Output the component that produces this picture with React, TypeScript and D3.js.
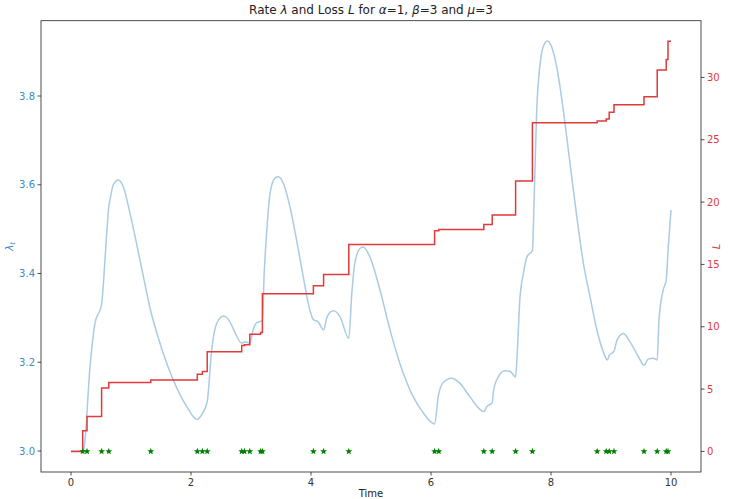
import React from "react";
import * as d3 from "d3";

// Event (arrival) times of the losses
const eventTimes = [
  0.195, 0.267, 0.51, 0.63, 1.33, 2.105, 2.19, 2.27, 2.845, 2.89, 2.98, 3.16, 3.19,
  4.04, 4.21, 4.63, 6.06, 6.13, 6.88, 7.02, 7.41, 7.69, 8.77, 8.92, 8.97, 9.05,
  9.55, 9.77, 9.92, 9.95,
];

// Cumulative loss L right after each event
const lossAfter = [
  1.66, 2.8, 5.08, 5.53, 5.72, 6.2, 6.41, 8.0, 8.5, 8.55, 9.4, 9.54, 12.64,
  13.28, 14.2, 16.6, 17.7, 17.8, 18.2, 18.97, 21.7, 26.36, 26.5, 26.66, 27.2, 27.8,
  28.45, 30.6, 31.44, 32.9,
];

// Intensity path lambda_t sampled over time
const rateTimes = [
  0, 0.195, 0.22, 0.317, 0.4, 0.51, 0.54, 0.595, 0.63, 0.65, 0.705, 0.79, 0.87, 0.983,
  1.15, 1.33, 1.483, 1.705, 1.93, 2.1, 2.19, 2.27, 2.345, 2.43, 2.54, 2.65, 2.73,
  2.845, 2.9, 2.98, 3.04, 3.094, 3.19, 3.22, 3.26, 3.317, 3.4, 3.456, 3.54, 3.65,
  3.76, 3.87, 3.98, 4.04, 4.12, 4.21, 4.27, 4.37, 4.483, 4.63, 4.68, 4.73, 4.82,
  4.87, 4.98, 5.15, 5.317, 5.48, 5.705, 5.85, 6.06, 6.12, 6.2, 6.345, 6.48, 6.65,
  6.88, 6.93, 7.02, 7.04, 7.12, 7.23, 7.32, 7.41, 7.44, 7.48, 7.54, 7.6, 7.69,
  7.72, 7.76, 7.82, 7.87, 7.94, 8.01, 8.095, 8.205, 8.317, 8.43, 8.54, 8.65, 8.77,
  8.87, 8.92, 8.94, 8.97, 9.05, 9.1, 9.205, 9.317, 9.455, 9.55, 9.62, 9.705, 9.77,
  9.8, 9.87, 9.92, 9.955, 10.0,
];
const rateValues = [
  3.0, 3.0, 3.01, 3.19, 3.288, 3.33, 3.378, 3.49, 3.55, 3.566, 3.6, 3.611, 3.596, 3.536,
  3.43, 3.315, 3.243, 3.16, 3.1, 3.071, 3.085, 3.111, 3.228, 3.288, 3.304, 3.291, 3.268,
  3.243, 3.246, 3.243, 3.275, 3.289, 3.294, 3.4, 3.49, 3.58, 3.615, 3.618, 3.603, 3.55,
  3.475, 3.393, 3.318, 3.296, 3.291, 3.273, 3.303, 3.316, 3.303, 3.254, 3.355, 3.423, 3.457,
  3.46, 3.438, 3.363, 3.273, 3.198, 3.122, 3.09, 3.061, 3.122, 3.154, 3.164, 3.153, 3.122,
  3.089, 3.1, 3.109, 3.134, 3.167, 3.181, 3.179, 3.167, 3.228, 3.34, 3.4, 3.438, 3.452,
  3.573, 3.761, 3.874, 3.911, 3.924, 3.911, 3.866, 3.768, 3.648, 3.528, 3.423, 3.348, 3.27,
  3.224, 3.208, 3.205, 3.215, 3.225, 3.25, 3.265, 3.246, 3.213, 3.193, 3.207, 3.209, 3.205,
  3.295, 3.363, 3.385, 3.46, 3.543,
];

const xTicks = [0, 2, 4, 6, 8, 10];
const rateTicks = [3.0, 3.2, 3.4, 3.6, 3.8];
const lossTicks = [0, 5, 10, 15, 20, 25, 30];

const W = 729;
const H = 499;
const PLOT = { left: 41, right: 701, top: 20.7, bottom: 472 };
const FONT = "DejaVu Sans, sans-serif";
const BLUE_TEXT = "#3d8bc4";
const RED_TEXT = "#de3a3a";

function star(cx: number, cy: number, r: number) {
  const pts: string[] = [];
  for (let i = 0; i < 10; i++) {
    const a = -Math.PI / 2 + (i * Math.PI) / 5;
    const rr = i % 2 === 0 ? r : r * 0.42;
    pts.push(`${(cx + rr * Math.cos(a)).toFixed(2)},${(cy + rr * Math.sin(a)).toFixed(2)}`);
  }
  return pts.join(" ");
}

export default function App() {
  const x = d3.scaleLinear().domain([-0.5, 10.5]).range([PLOT.left, PLOT.right]);
  const yRate = d3
    .scaleLinear()
    .domain([2.9527, 3.9697])
    .range([PLOT.bottom, PLOT.top]);
  const yLoss = d3.scaleLinear().domain([-1.65, 34.55]).range([PLOT.bottom, PLOT.top]);

  const ratePts: [number, number][] = rateTimes.map((t, i) => [t, rateValues[i]]);
  const rateLine = d3
    .line<[number, number]>()
    .x((d) => x(d[0]))
    .y((d) => yRate(d[1]))
    .curve(d3.curveMonotoneX)(ratePts);

  const lossPts: [number, number][] = [[0, 0]];
  eventTimes.forEach((t, i) => lossPts.push([t, lossAfter[i]]));
  lossPts.push([10, lossAfter[lossAfter.length - 1]]);
  const lossLine = d3
    .line<[number, number]>()
    .x((d) => x(d[0]))
    .y((d) => yLoss(d[1]))
    .curve(d3.curveStepAfter)(lossPts);

  const midX = (PLOT.left + PLOT.right) / 2;
  const midY = (PLOT.top + PLOT.bottom) / 2;

  return (
    <svg
      width={W}
      height={H}
      style={{ position: "absolute", left: 0, top: 0, background: "#fff" }}
      fontFamily={FONT}
    >
      <rect x={0} y={0} width={W} height={H} fill="#fff" />

      <path d={rateLine || ""} fill="none" stroke="#a9cbe4" strokeWidth={1.5} />
      <path d={lossLine || ""} fill="none" stroke="#e03a3a" strokeWidth={1.5} />

      {eventTimes.map((t, i) => (
        <polygon key={i} points={star(x(t), yLoss(0), 3.6)} fill="#008000" />
      ))}

      {/* frame */}
      <rect
        x={PLOT.left}
        y={PLOT.top}
        width={PLOT.right - PLOT.left}
        height={PLOT.bottom - PLOT.top}
        fill="none"
        stroke="#222"
        strokeWidth={0.8}
      />

      {/* x axis */}
      {xTicks.map((t) => (
        <g key={t}>
          <line x1={x(t)} x2={x(t)} y1={PLOT.bottom} y2={PLOT.bottom + 3.5} stroke="#222" strokeWidth={0.8} />
          <text x={x(t)} y={PLOT.bottom + 14} fontSize={10} textAnchor="middle" fill="#333">
            {t}
          </text>
        </g>
      ))}
      <text x={midX} y={497} fontSize={10} textAnchor="middle" fill="#222">
        Time
      </text>

      {/* left axis: rate */}
      {rateTicks.map((v) => (
        <g key={v}>
          <line x1={PLOT.left - 3.5} x2={PLOT.left} y1={yRate(v)} y2={yRate(v)} stroke="#222" strokeWidth={0.8} />
          <text x={PLOT.left - 6} y={yRate(v) + 3.5} fontSize={10} textAnchor="end" fill={BLUE_TEXT}>
            {v.toFixed(1)}
          </text>
        </g>
      ))}
      <text
        transform={`translate(13,${midY}) rotate(-90)`}
        fontSize={10}
        textAnchor="middle"
        fill={BLUE_TEXT}
      >
        <tspan fontStyle="italic">λ</tspan>
        <tspan fontStyle="italic" fontSize={7} dy={2}>t</tspan>
      </text>

      {/* right axis: loss */}
      {lossTicks.map((v) => (
        <g key={v}>
          <line x1={PLOT.right} x2={PLOT.right + 3.5} y1={yLoss(v)} y2={yLoss(v)} stroke="#222" strokeWidth={0.8} />
          <text x={PLOT.right + 6} y={yLoss(v) + 3.5} fontSize={10} textAnchor="start" fill={RED_TEXT}>
            {v}
          </text>
        </g>
      ))}
      <text
        transform={`translate(720,${midY}) rotate(-90)`}
        fontSize={10}
        textAnchor="middle"
        fill={RED_TEXT}
        fontStyle="italic"
      >
        L
      </text>

      {/* title */}
      <text x={midX} y={14} fontSize={12} textAnchor="middle" fill="#222">
        Rate <tspan fontStyle="italic">λ</tspan> and Loss <tspan fontStyle="italic">L</tspan> for{" "}
        <tspan fontStyle="italic">α</tspan>=1, <tspan fontStyle="italic">β</tspan>=3 and{" "}
        <tspan fontStyle="italic">μ</tspan>=3
      </text>
    </svg>
  );
}
